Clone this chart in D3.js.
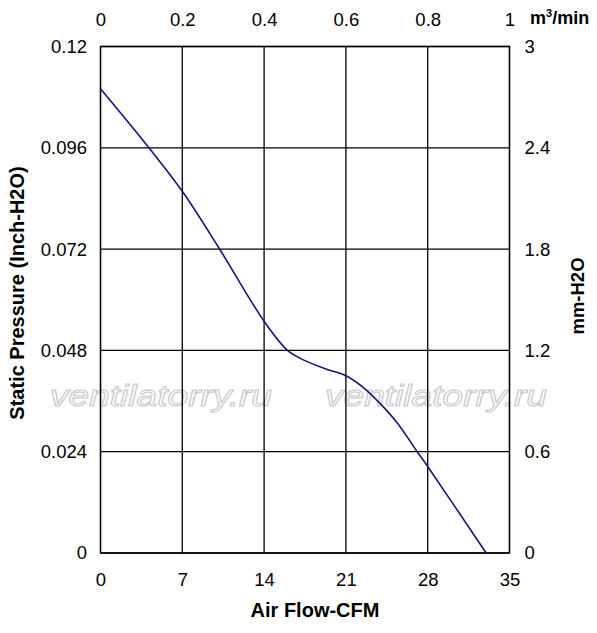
<!DOCTYPE html>
<html><head><meta charset="utf-8">
<script src="https://cdn.jsdelivr.net/npm/d3@7/dist/d3.min.js"></script>
<style>
html,body{margin:0;padding:0;background:#fff;}
svg{display:block;font-family:"Liberation Sans",Arial,sans-serif;}
</style></head>
<body>
<svg id="chart" width="597" height="633"></svg>
<script>
// ---- data ----
const cfmTicks = [0, 7, 14, 21, 28, 35];
const m3Ticks = [0, 0.2, 0.4, 0.6, 0.8, 1];
const inchTicks = [0, 0.024, 0.048, 0.072, 0.096, 0.12];
const inchTickLabels = ["0", "0.024", "0.048", "0.072", "0.096", "0.12"];
const mmTicks = [0, 0.6, 1.2, 1.8, 2.4, 3];
const mmTickLabels = ["0", "0.6", "1.2", "1.8", "2.4", "3"];
const flowCFM = [0, 4.15, 7, 10.15, 14, 16, 17.4, 19.4, 21, 22.5, 24, 25.4, 27.1, 28, 33];
const pressureInch = [0.110, 0.096, 0.0857, 0.0722, 0.0549, 0.048, 0.0457, 0.0435, 0.042, 0.0392, 0.0352, 0.0308, 0.024, 0.0205, 0];
const watermark = "ventilatorry.ru";

// ---- layout ----
const L = 100.5, R = 509.5, T = 46.5, B = 553;
const svg = d3.select("#chart");
const x = d3.scaleLinear([0, 35], [L, R]);
const xTop = d3.scaleLinear([0, 1], [L, R]);
const y = d3.scaleLinear([0, 0.12], [B, T]);
const yR = d3.scaleLinear([0, 3], [B, T]);

// watermark
const wm = svg.append("g");
[50, 325].forEach(wx => {
  wm.append("text").attr("x", wx).attr("y", 406)
    .attr("font-size", 29).attr("font-style", "italic")
    .attr("fill", "#fff").attr("stroke", "#c8c8c8").attr("stroke-width", 1)
    .attr("textLength", 222).attr("lengthAdjust", "spacingAndGlyphs")
    .text(watermark);
});

// gridlines
const grid = svg.append("g").attr("stroke", "#000").attr("stroke-width", 1.3);
grid.selectAll("line.v").data(cfmTicks).join("line")
  .attr("x1", d => x(d)).attr("x2", d => x(d)).attr("y1", T).attr("y2", B);
grid.selectAll("line.h").data(inchTicks).join("line")
  .attr("x1", L).attr("x2", R).attr("y1", d => y(d)).attr("y2", d => y(d));
svg.append("rect").attr("x", L).attr("y", T).attr("width", R - L).attr("height", B - T)
  .attr("fill", "none").attr("stroke", "#000").attr("stroke-width", 1.3);

// axes
function styleAxis(g) {
  g.select(".domain").remove();
  g.selectAll(".tick line").remove();
  g.selectAll("text").attr("font-size", 18.5).attr("fill", "#000")
    .attr("font-family", "\"Liberation Sans\",Arial,sans-serif");
}
svg.append("g").attr("transform", `translate(0,${B})`)
  .call(d3.axisBottom(x).tickValues(cfmTicks).tickSize(0).tickPadding(20))
  .call(styleAxis);
svg.append("g").attr("transform", `translate(0,${T})`)
  .call(d3.axisTop(xTop).tickValues(m3Ticks).tickSize(0).tickPadding(21).tickFormat(d3.format("~g")))
  .call(styleAxis);
svg.append("g").attr("transform", `translate(${L},0)`)
  .call(d3.axisLeft(y).tickValues(inchTicks).tickSize(0).tickPadding(13.5).tickFormat((d, i) => inchTickLabels[i]))
  .call(styleAxis);
svg.append("g").attr("transform", `translate(${R},0)`)
  .call(d3.axisRight(yR).tickValues(mmTicks).tickSize(0).tickPadding(15).tickFormat((d, i) => mmTickLabels[i]))
  .call(styleAxis);

// curve
const pts = flowCFM.map((f, i) => [f, pressureInch[i]]);
svg.append("path").datum(pts)
  .attr("fill", "none").attr("stroke", "#141480").attr("stroke-width", 1.6)
  .attr("d", d3.line().x(d => x(d[0])).y(d => y(d[1])).curve(d3.curveCatmullRom.alpha(0.5)));

// titles
svg.append("text").attr("x", 315).attr("y", 617).attr("text-anchor", "middle")
  .attr("font-size", 20).attr("font-weight", "bold").text("Air Flow-CFM");
svg.append("text").attr("transform", "translate(24,293) rotate(-90)").attr("text-anchor", "middle")
  .attr("font-size", 20).attr("font-weight", "bold").text("Static Pressure (Inch-H2O)");
svg.append("text").attr("transform", "translate(584,296) rotate(-90)").attr("text-anchor", "middle")
  .attr("font-size", 18.5).attr("font-weight", "bold").text("mm-H2O");
const mt = svg.append("text").attr("x", 530).attr("y", 24).attr("font-size", 18).attr("font-weight", "bold");
mt.append("tspan").text("m");
mt.append("tspan").attr("font-size", 11).attr("dy", -7).text("3");
mt.append("tspan").attr("dy", 7).text("/min");
</script>
</body></html>
